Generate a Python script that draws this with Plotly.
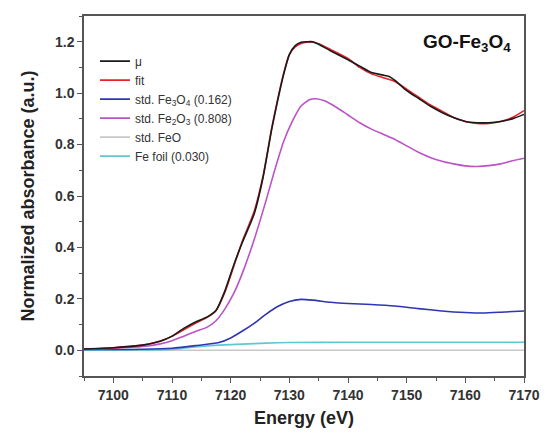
import plotly.graph_objects as go

# ---- data ----
mu_E = [7095, 7100, 7105, 7108, 7110, 7112, 7114, 7116, 7117.5, 7119, 7120.5, 7122, 7124, 7125.5,
        7127, 7128, 7129, 7130, 7131, 7132, 7133, 7134, 7135, 7137, 7140, 7142, 7144, 7146, 7147,
        7148, 7150, 7152, 7154, 7156, 7158, 7160, 7162, 7164, 7166, 7168, 7170]
mu_y = [0.005, 0.01, 0.02, 0.035, 0.055, 0.085, 0.11, 0.13, 0.155, 0.23, 0.33, 0.42, 0.53, 0.67,
        0.86, 0.97, 1.07, 1.15, 1.185, 1.198, 1.2, 1.2, 1.19, 1.165, 1.13, 1.105, 1.08, 1.07, 1.065,
        1.05, 1.01, 0.98, 0.95, 0.925, 0.905, 0.89, 0.885, 0.885, 0.89, 0.9, 0.917]

fit_E = [7095, 7100, 7105, 7108, 7110, 7112, 7114, 7116, 7117.5, 7119, 7120.5, 7122, 7124, 7125.5,
         7127, 7128, 7129, 7130, 7131, 7132, 7133, 7134, 7135, 7137, 7140, 7142, 7144, 7146, 7148,
         7150, 7152, 7154, 7156, 7158, 7160, 7162, 7164, 7166, 7168, 7170]
fit_y = [0.004, 0.01, 0.02, 0.036, 0.054, 0.08, 0.105, 0.128, 0.155, 0.225, 0.325, 0.425, 0.54, 0.675,
         0.865, 0.975, 1.075, 1.15, 1.18, 1.193, 1.198, 1.198, 1.192, 1.17, 1.135, 1.1, 1.075, 1.06, 1.045,
         1.015, 0.985, 0.955, 0.93, 0.905, 0.89, 0.882, 0.882, 0.89, 0.905, 0.932]

fe3o4_E = [7095, 7100, 7105, 7110, 7114, 7118, 7120, 7122, 7124, 7126, 7128, 7130, 7132, 7134, 7137,
           7140, 7144, 7148, 7152, 7156, 7160, 7163, 7166, 7170]
fe3o4_y = [0.003, 0.003, 0.004, 0.008, 0.018, 0.03, 0.048, 0.075, 0.105, 0.14, 0.17, 0.19, 0.198,
           0.195, 0.187, 0.182, 0.178, 0.172, 0.162, 0.153, 0.147, 0.145, 0.148, 0.153]

fe2o3_E = [7095, 7100, 7105, 7108, 7110, 7112, 7114, 7116, 7117.5, 7119, 7120.5, 7122, 7124, 7126,
           7127.5, 7129, 7130.5, 7132, 7133.5, 7134.5, 7136, 7138, 7140, 7142, 7144, 7146, 7148, 7150,
           7152, 7154, 7156, 7158, 7160, 7162, 7164, 7166, 7168, 7170]
fe2o3_y = [0.004, 0.008, 0.015, 0.025, 0.037, 0.055, 0.073, 0.09, 0.115, 0.16, 0.22, 0.3, 0.43, 0.58,
           0.7, 0.81, 0.89, 0.95, 0.975, 0.978, 0.97, 0.945, 0.915, 0.885, 0.86, 0.84, 0.82, 0.795,
           0.77, 0.75, 0.735, 0.725, 0.717, 0.715, 0.718, 0.725, 0.737, 0.747]

feo_E = [7095, 7120, 7145, 7170]
feo_y = [0.0, 0.0, 0.0, 0.0]

foil_E = [7095, 7105, 7110, 7112, 7115, 7118, 7122, 7126, 7130, 7140, 7170]
foil_y = [0.0, 0.001, 0.003, 0.008, 0.015, 0.02, 0.024, 0.028, 0.030, 0.031, 0.031]

series = [
    ("μ", mu_E, mu_y, "#1a1a1a"),
    ("fit", fit_E, fit_y, "#e8202a"),
    ("std. Fe<sub>3</sub>O<sub>4</sub> (0.162)", fe3o4_E, fe3o4_y, "#2f36b0"),
    ("std. Fe<sub>2</sub>O<sub>3</sub> (0.808)", fe2o3_E, fe2o3_y, "#bb52c6"),
    ("std. FeO", feo_E, feo_y, "#c8c8c8"),
    ("Fe foil (0.030)", foil_E, foil_y, "#5ec8d2"),
]

x_ticks = [7100, 7110, 7120, 7130, 7140, 7150, 7160, 7170]

FONT = "Liberation Sans, Arial, sans-serif"

fig = go.Figure()
# draw order: standards first, then fit and data on top
draw_order = [4, 5, 2, 3, 1, 0]
for i in draw_order:
    name, xs, ys, col = series[i]
    fig.add_trace(go.Scatter(x=xs, y=ys, mode="lines", name=name,
                             line=dict(color=col, width=1.6, shape="spline", smoothing=0.6),
                             legendrank=i + 1))

axis_common = dict(showline=True, linecolor="#555555", linewidth=1.5, mirror=True,
                   ticks="outside", ticklen=5, tickwidth=1.2, tickcolor="#555555",
                   showgrid=False, zeroline=False,
                   tickfont=dict(family=FONT, size=14, color="#333333", weight="bold"))

fig.update_layout(
    width=552, height=437,
    margin=dict(l=84, r=19, t=16, b=57),
    paper_bgcolor="white", plot_bgcolor="white",
    showlegend=True,
    legend=dict(x=0.025, y=0.915, xanchor="left", yanchor="top",
                bgcolor="rgba(0,0,0,0)", borderwidth=0,
                font=dict(family=FONT, size=12, color="#333333"),
                tracegroupgap=0, itemwidth=30),
    xaxis=dict(range=[7095, 7170], tickvals=x_ticks,
               minor=dict(dtick=5, tick0=7095, ticks="outside", ticklen=3, tickcolor="#555555"),
               title=dict(text="<b>Energy (eV)</b>", font=dict(family=FONT, size=18, color="#222222"),
                          standoff=10),
               **axis_common),
    yaxis=dict(range=[-0.1, 1.3], dtick=0.2, tick0=0, tickformat=".1f",
               minor=dict(dtick=0.1, tick0=0, ticks="outside", ticklen=3, tickcolor="#555555"),
               title=dict(text="<b>Normalized absorbance (a.u.)</b>",
                          font=dict(family=FONT, size=18, color="#222222"), standoff=16),
               **axis_common),
    annotations=[dict(text="<b>GO-Fe<sub>3</sub>O<sub>4</sub></b>", xref="paper", yref="paper",
                      x=0.975, y=0.965, xanchor="right", yanchor="top", showarrow=False,
                      font=dict(family=FONT, size=19, color="#111111"))],
)

fig.write_html("out.html", config={"displayModeBar": False},
               post_script="document.body.style.margin='0';document.body.style.overflow='hidden';")
